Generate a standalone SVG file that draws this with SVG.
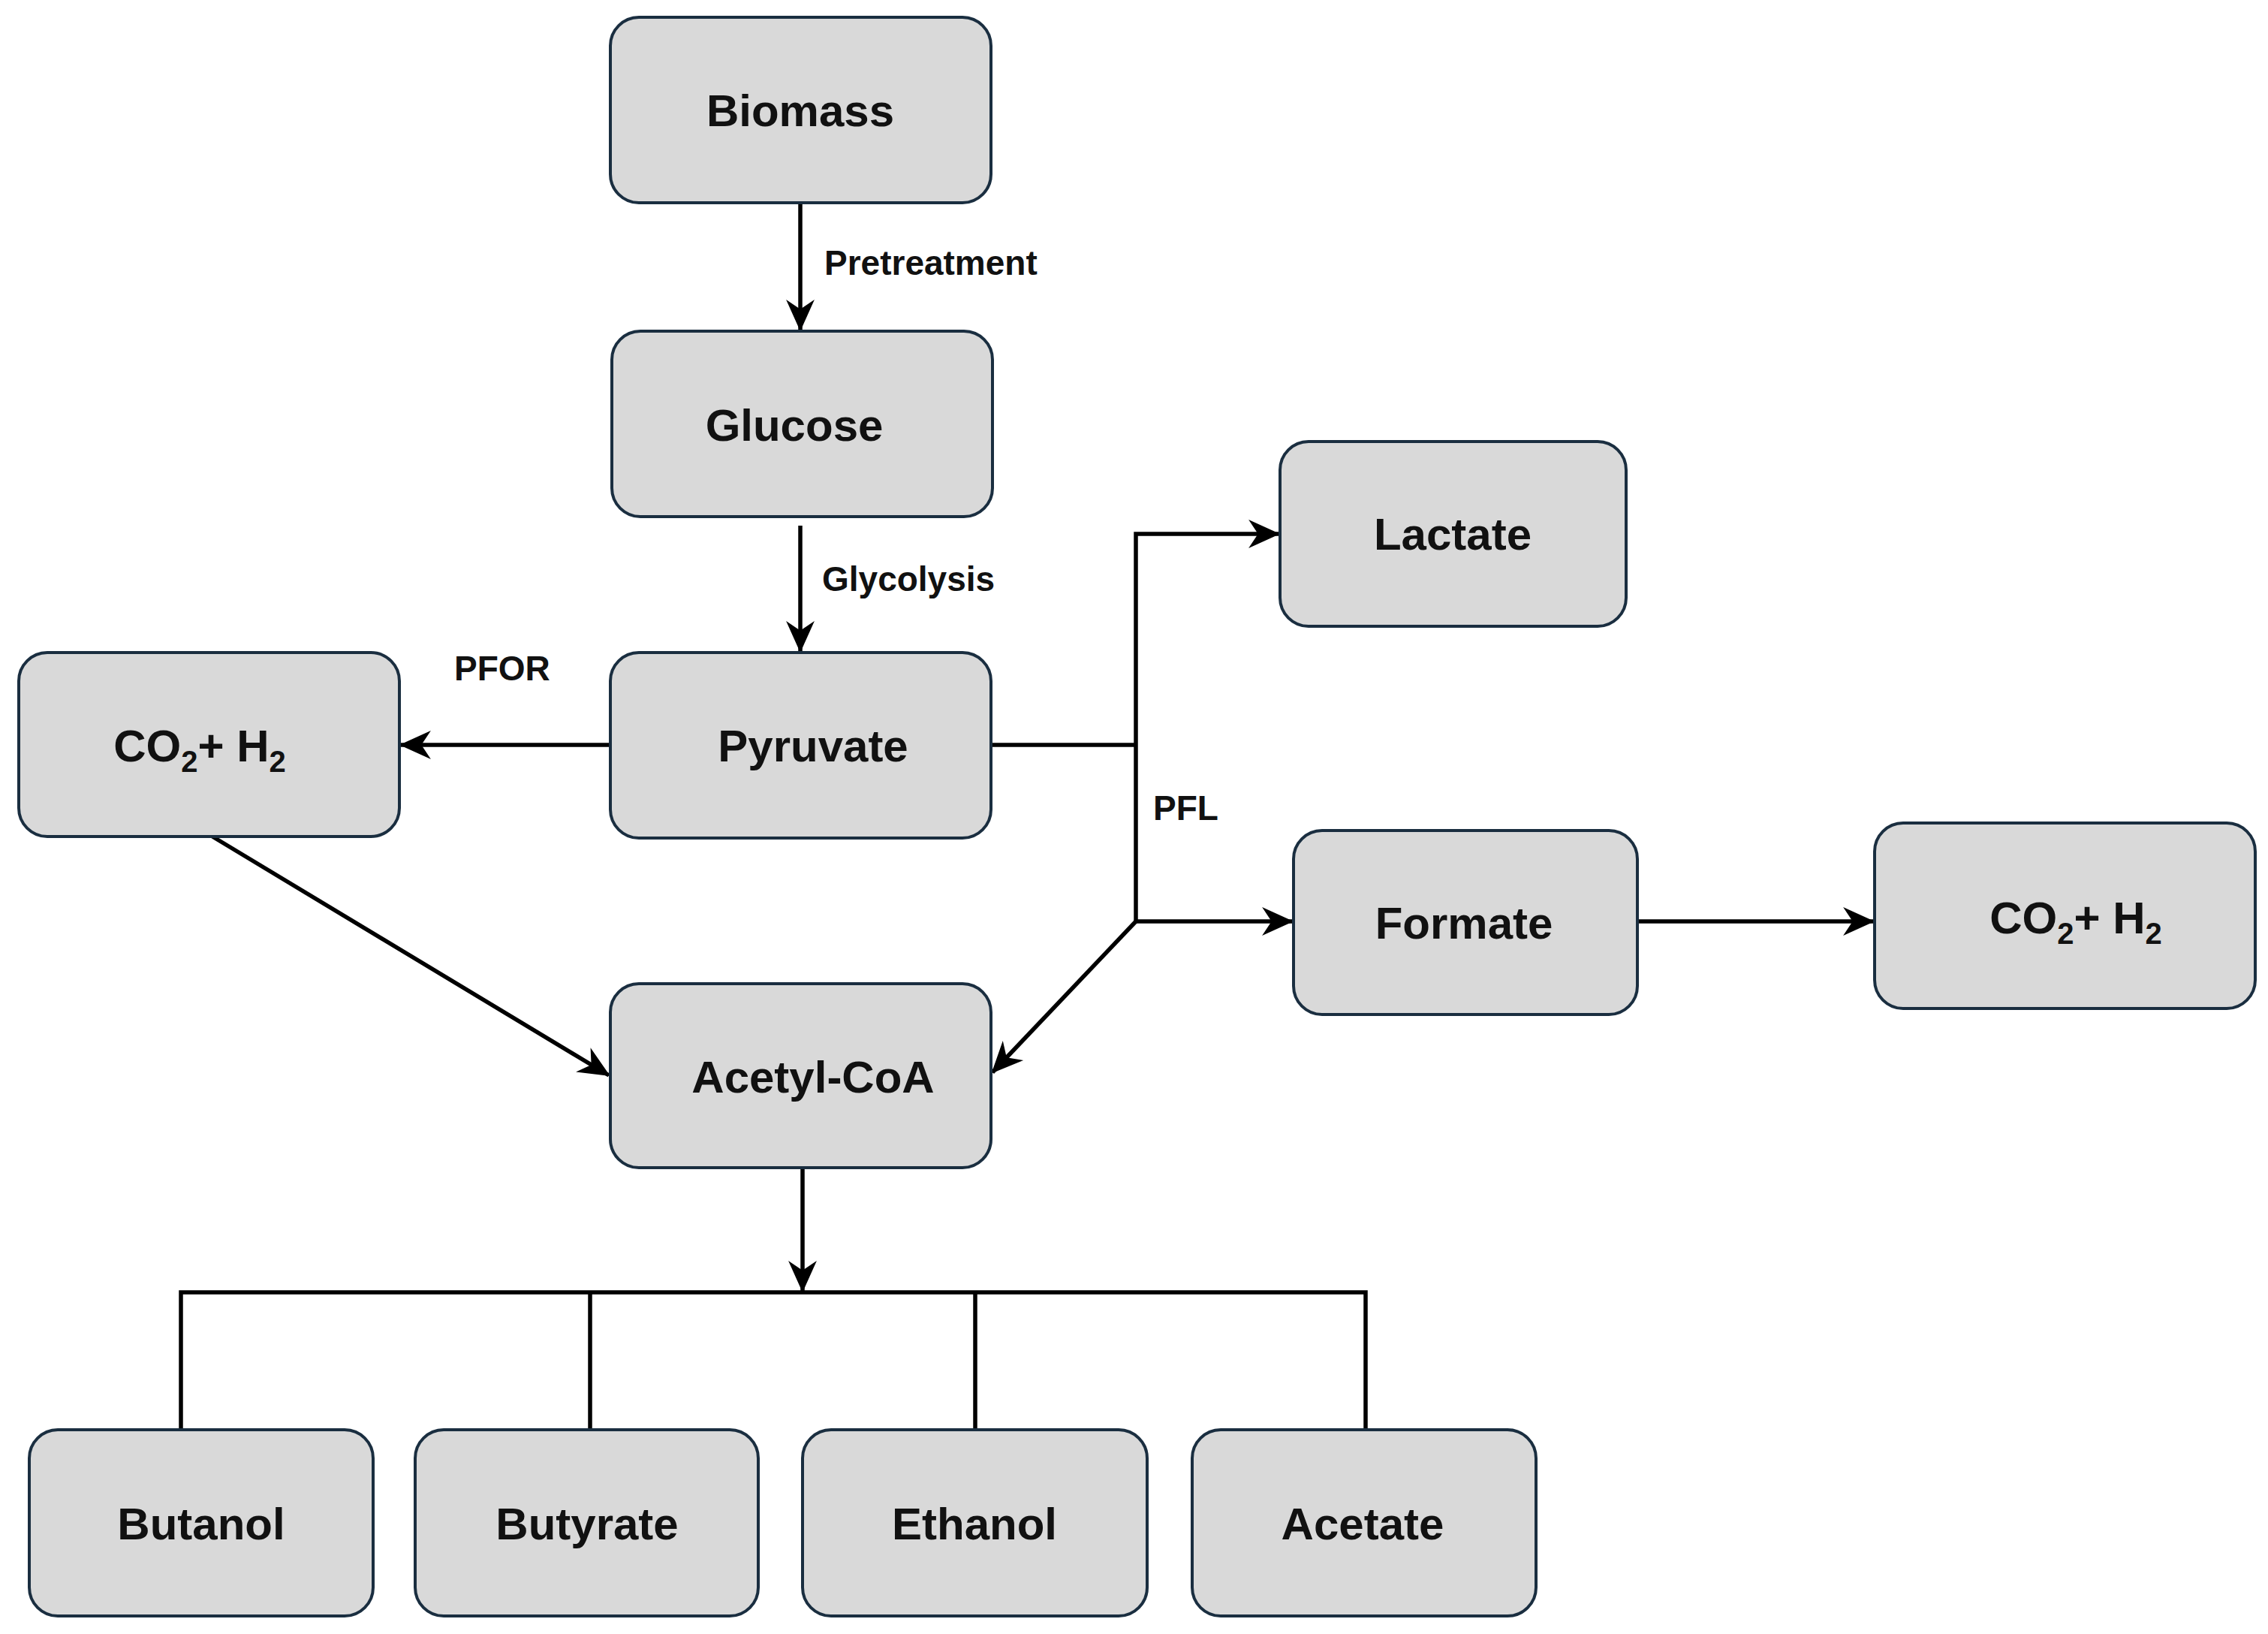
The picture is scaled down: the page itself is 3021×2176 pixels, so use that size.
<svg xmlns="http://www.w3.org/2000/svg" width="3021" height="2176" viewBox="0 0 3021 2176">
<style>
.box{fill:#d9d9d9;stroke:#1a2e40;stroke-width:4}
.t{font-family:"Liberation Sans",Arial,sans-serif;font-weight:bold;font-size:60px;fill:#111;text-anchor:middle}
.l{font-family:"Liberation Sans",Arial,sans-serif;font-weight:bold;font-size:46px;fill:#111}
.c{fill:none;stroke:#000;stroke-width:5.5}
.a{marker-end:url(#ah)}
</style>
<defs>
<marker id="ah" markerWidth="12" markerHeight="12" refX="10" refY="6" orient="auto" markerUnits="userSpaceOnUse" viewBox="0 0 12 12">
</marker>
<marker id="arr" viewBox="0 0 20 20" refX="19" refY="10" markerWidth="42" markerHeight="42" markerUnits="userSpaceOnUse" orient="auto">
<path d="M0,1 L20,10 L0,19 L6,10 Z" fill="#000"/>
</marker>
</defs>
<g id="connectors">
<path class="c" marker-end="url(#arr)" d="M1066,270 V439"/>
<path class="c" marker-end="url(#arr)" d="M1066,700 V867"/>
<path class="c" marker-end="url(#arr)" d="M813,992 H534"/>
<path class="c" d="M1320,992 H1513"/>
<path class="c" marker-end="url(#arr)" d="M1513,1227 V711 H1703"/>
<path class="c" marker-end="url(#arr)" d="M1513,1227 H1721"/>
<path class="c" marker-end="url(#arr)" d="M1513,1227 L1322,1428"/>
<path class="c" marker-end="url(#arr)" d="M283,1114 L811,1432"/>
<path class="c" marker-end="url(#arr)" d="M2181,1227 H2495"/>
<path class="c" marker-end="url(#arr)" d="M1069,1555 V1719"/>
<path class="c" d="M241,1904 V1721 H1819 V1904 M786,1721 V1904 M1299,1721 V1904"/>
</g>
<g id="labels">
<text class="l" x="1098" y="366">Pretreatment</text>
<text class="l" x="1095" y="787">Glycolysis</text>
<text class="l" x="605" y="906">PFOR</text>
<text class="l" x="1536" y="1092">PFL</text>
</g>
<g id="biomass"><rect class="box" x="813" y="23" width="507" height="247" rx="38"/><text class="t" x="1066" y="168">Biomass</text></g>
<g id="glucose"><rect class="box" x="815" y="441" width="507" height="247" rx="38"/><text class="t" x="1058" y="587">Glucose</text></g>
<g id="pyruvate"><rect class="box" x="813" y="869" width="507" height="247" rx="38"/><text class="t" x="1083" y="1014">Pyruvate</text></g>
<g id="co2h2-left"><rect class="box" x="25" y="869" width="507" height="245" rx="38"/><text class="t" x="266" y="1014">CO<tspan font-size="40" dy="14">2</tspan><tspan dy="-14">+ H</tspan><tspan font-size="40" dy="14">2</tspan></text></g>
<g id="lactate"><rect class="box" x="1705" y="588" width="461" height="246" rx="38"/><text class="t" x="1935" y="732">Lactate</text></g>
<g id="formate"><rect class="box" x="1723" y="1106" width="458" height="245" rx="38"/><text class="t" x="1950" y="1250">Formate</text></g>
<g id="co2h2-right"><rect class="box" x="2497" y="1096" width="507" height="247" rx="38"/><text class="t" x="2765" y="1243">CO<tspan font-size="40" dy="14">2</tspan><tspan dy="-14">+ H</tspan><tspan font-size="40" dy="14">2</tspan></text></g>
<g id="acetylcoa"><rect class="box" x="813" y="1310" width="507" height="245" rx="38"/><text class="t" x="1083" y="1455">Acetyl-CoA</text></g>
<g id="butanol"><rect class="box" x="39" y="1904" width="458" height="248" rx="38"/><text class="t" x="268" y="2050">Butanol</text></g>
<g id="butyrate"><rect class="box" x="553" y="1904" width="457" height="248" rx="38"/><text class="t" x="782" y="2050">Butyrate</text></g>
<g id="ethanol"><rect class="box" x="1069" y="1904" width="459" height="248" rx="38"/><text class="t" x="1298" y="2050">Ethanol</text></g>
<g id="acetate"><rect class="box" x="1588" y="1904" width="458" height="248" rx="38"/><text class="t" x="1815" y="2050">Acetate</text></g>
</svg>
